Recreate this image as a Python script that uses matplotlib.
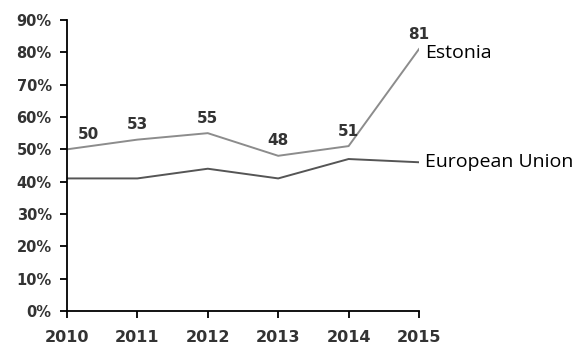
import matplotlib.pyplot as plt
from matplotlib.ticker import PercentFormatter

years = [2010, 2011, 2012, 2013, 2014, 2015]
estonia = [50, 53, 55, 48, 51, 81]
eu = [41, 41, 44, 41, 47, 46]
yticks = [0, 10, 20, 30, 40, 50, 60, 70, 80, 90]

fig = plt.figure(figsize=(5.85, 3.46), dpi=100)
ax = fig.add_axes([0.1145, 0.1012, 0.6017, 0.841])

ax.plot(years, estonia, color="#8c8c8c", lw=1.4, solid_joinstyle="miter")
ax.plot(years, eu, color="#555555", lw=1.4, solid_joinstyle="miter")

# value labels above the Estonia line, first one nudged clear of the axis
for i, (x, v) in enumerate(zip(years, estonia)):
    dx = 21 if i == 0 else 0
    ax.annotate(str(v), (x, v), xytext=(dx, 15), textcoords="offset pixels",
                ha="center", va="center", fontsize=11, fontweight="bold",
                color="#333333")

ax.annotate("Estonia", (years[-1], estonia[-1]), xytext=(6, -4),
            textcoords="offset pixels", ha="left", va="center",
            fontsize=14, family="Open Sans", color="black")
ax.annotate("European Union", (years[-1], eu[-1]), xytext=(6, 0),
            textcoords="offset pixels", ha="left", va="center",
            fontsize=14, family="Open Sans", color="black")

ax.set_xlim(2010, 2015)
ax.set_ylim(0, 90)
ax.set_xticks(years)
ax.set_yticks(yticks)
ax.yaxis.set_major_formatter(PercentFormatter(decimals=0))

for side in ["top", "right"]:
    ax.spines[side].set_visible(False)
for side in ["left", "bottom"]:
    ax.spines[side].set_linewidth(1.3)
    ax.spines[side].set_color("black")

ax.tick_params(axis="y", length=5, width=1.3, pad=6, labelsize=10.5,
               labelcolor="#333333")
ax.tick_params(axis="x", length=5, width=1.3, pad=9, labelsize=11.5,
               labelcolor="#333333")
for lbl in ax.get_xticklabels() + ax.get_yticklabels():
    lbl.set_fontweight("bold")

fig.savefig("out.png", dpi=100)
